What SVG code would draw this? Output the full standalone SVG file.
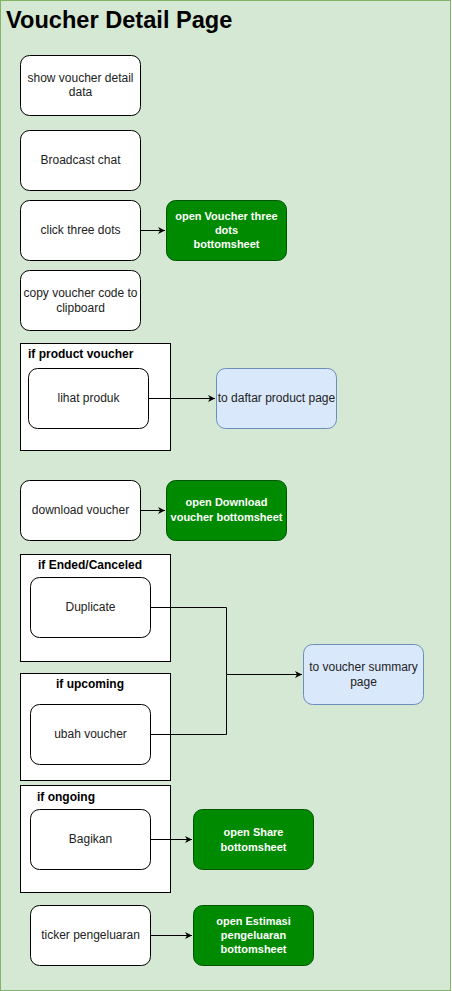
<svg xmlns="http://www.w3.org/2000/svg" width="452" height="991" viewBox="0 0 452 991">
<defs>
<marker id="arr" markerWidth="8" markerHeight="8" refX="7" refY="4" orient="auto" markerUnits="userSpaceOnUse">
<path d="M0,0.5 L7,4 L0,7.5 L2,4 Z" fill="#000"/>
</marker>
<style>
text{font-family:"Liberation Sans",Arial,sans-serif;font-size:12px;text-anchor:middle;fill:#222}
.n{fill:#fff;stroke:#000;stroke-width:1}
.g{fill:#008a00;stroke:#005700;stroke-width:1}
text.w{fill:#fff;font-weight:bold;font-size:11px}
.b{fill:#dae8fc;stroke:#6c8ebf;stroke-width:1}
.c{fill:#fff;stroke:#000;stroke-width:1}
.t{font-weight:bold;fill:#000}
.e{fill:none;stroke:#000;stroke-width:1}
</style>
</defs>
<g id="page">
<rect x="0.5" y="0.5" width="450" height="990" fill="#d5e8d4" stroke="#82b366"/>
<text x="6" y="28" style="font-size:23.6px;font-weight:bold;text-anchor:start;fill:#000">Voucher Detail Page</text>
</g>
<g id="containers">
<g id="c-product"><rect class="c" x="20.5" y="343.5" width="150" height="107"/><text class="t" x="28" y="358" style="text-anchor:start">if product voucher</text></g>
<g id="c-ended"><rect class="c" x="20.5" y="554.5" width="150" height="107"/><text class="t" x="90" y="569">if Ended/Canceled</text></g>
<g id="c-upcoming"><rect class="c" x="20.5" y="673.5" width="150" height="107"/><text class="t" x="90" y="688">if upcoming</text></g>
<g id="c-ongoing"><rect class="c" x="20.5" y="785.5" width="150" height="107"/><text class="t" x="37" y="801" style="text-anchor:start">if ongoing</text></g>
</g>
<g id="n1"><rect class="n" x="20.5" y="55.5" width="120" height="60" rx="9"/><text x="80.5" y="82">show voucher detail</text><text x="80.5" y="96">data</text></g>
<g id="n2"><rect class="n" x="20.5" y="130.5" width="120" height="60" rx="9"/><text x="80.5" y="164">Broadcast chat</text></g>
<g id="n3"><rect class="n" x="20.5" y="200.5" width="120" height="60" rx="9"/><text x="80.5" y="234">click three dots</text></g>
<g id="n3g"><rect class="g" x="166.5" y="200.5" width="120" height="60" rx="9"/><text class="w" x="226.5" y="220">open Voucher three</text><text class="w" x="226.5" y="234">dots</text><text class="w" x="226.5" y="248">bottomsheet</text></g>
<g id="n4"><rect class="n" x="20.5" y="270.5" width="120" height="60" rx="9"/><text x="80.5" y="297">copy voucher code to</text><text x="80.5" y="312">clipboard</text></g>
<g id="n5"><rect class="n" x="28.5" y="368.5" width="120" height="60" rx="9"/><text x="88.5" y="402">lihat produk</text></g>
<g id="n5b"><rect class="b" x="216.5" y="368.5" width="120" height="60" rx="9"/><text x="276.5" y="402">to daftar product page</text></g>
<g id="n6"><rect class="n" x="20.5" y="480.5" width="120" height="60" rx="9"/><text x="80.5" y="514">download voucher</text></g>
<g id="n6g"><rect class="g" x="166.5" y="480.5" width="120" height="60" rx="9"/><text class="w" x="226.5" y="506">open Download</text><text class="w" x="226.5" y="521">voucher bottomsheet</text></g>
<g id="n7"><rect class="n" x="30.5" y="577.5" width="120" height="60" rx="9"/><text x="90.5" y="611">Duplicate</text></g>
<g id="n8"><rect class="n" x="30.5" y="704.5" width="120" height="60" rx="9"/><text x="90.5" y="738">ubah voucher</text></g>
<g id="n78b"><rect class="b" x="303.5" y="644.5" width="120" height="60" rx="9"/><text x="363.5" y="671">to voucher summary</text><text x="363.5" y="686">page</text></g>
<g id="n9"><rect class="n" x="30.5" y="809.5" width="120" height="60" rx="9"/><text x="90.5" y="843">Bagikan</text></g>
<g id="n9g"><rect class="g" x="193.5" y="809.5" width="120" height="60" rx="9"/><text class="w" x="253.5" y="836">open Share</text><text class="w" x="253.5" y="851">bottomsheet</text></g>
<g id="n10"><rect class="n" x="30.5" y="905.5" width="120" height="60" rx="9"/><text x="90.5" y="939">ticker pengeluaran</text></g>
<g id="n10g"><rect class="g" x="193.5" y="905.5" width="120" height="60" rx="9"/><text class="w" x="253.5" y="925">open Estimasi</text><text class="w" x="253.5" y="939">pengeluaran</text><text class="w" x="253.5" y="953">bottomsheet</text></g>
<g id="connectors">
<path class="e" d="M140.5,230.5 H165" marker-end="url(#arr)"/>
<path class="e" d="M148.5,398.5 H215" marker-end="url(#arr)"/>
<path class="e" d="M140.5,510.5 H165" marker-end="url(#arr)"/>
<path class="e" d="M150.5,607.5 H226.5 V674.5 H302" marker-end="url(#arr)"/>
<path class="e" d="M150.5,734.5 H226.5 V674.5"/>
<path class="e" d="M150.5,839.5 H192" marker-end="url(#arr)"/>
<path class="e" d="M150.5,935.5 H192" marker-end="url(#arr)"/>
</g>
</svg>
